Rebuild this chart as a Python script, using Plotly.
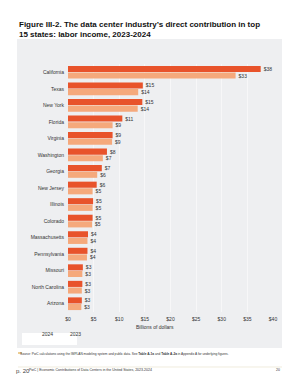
import plotly.graph_objects as go

W, H = 300, 388

states = ["California", "Texas", "New York", "Florida", "Virginia", "Washington",
          "Georgia", "New Jersey", "Illinois", "Colorado", "Massachusetts",
          "Pennsylvania", "Missouri", "North Carolina", "Arizona"]
income_2024 = [37.6, 14.6, 14.5, 10.6, 8.7, 7.6, 6.6, 5.6, 4.9, 4.8, 3.9, 3.8, 2.9, 2.8, 2.7]
income_2023 = [32.7, 13.7, 13.6, 8.7, 8.6, 6.8, 5.7, 4.8, 4.8, 4.7, 3.8, 3.7, 2.8, 2.7, 2.6]
labels_2024 = ["$38", "$15", "$15", "$11", "$9", "$8", "$7", "$6", "$5", "$5", "$4", "$4", "$3", "$3", "$3"]
labels_2023 = ["$33", "$14", "$14", "$9", "$9", "$7", "$6", "$5", "$5", "$5", "$4", "$4", "$3", "$3", "$3"]
tick_vals = [0, 5, 10, 15, 20, 25, 30, 35, 40]
tick_text = ["$0", "$5", "$10", "$15", "$20", "$25", "$30", "$35", "$40"]

DARK = "#E8532B"
LIGHT = "#F5A97C"
FONT = "Liberation Sans, Arial, sans-serif"

def px_x(x):
    return x / W

def px_y(y):
    return 1 - y / H

fig = go.Figure()
fig.add_trace(go.Bar(y=states, x=income_2024, orientation="h", name="2024",
                     marker=dict(color=DARK, line=dict(width=0)),
                     text=labels_2024, textposition="outside", cliponaxis=False,
                     textfont=dict(size=5, color="#333333", family=FONT)))
fig.add_trace(go.Bar(y=states, x=income_2023, orientation="h", name="2023",
                     marker=dict(color=LIGHT, line=dict(width=0)),
                     text=labels_2023, textposition="outside", cliponaxis=False,
                     textfont=dict(size=5, color="#333333", family=FONT)))

shapes = [
    dict(type="rect", xref="paper", yref="paper", x0=px_x(17), x1=px_x(282),
         y0=px_y(348), y1=px_y(39), fillcolor="#EEEFF1", line=dict(width=0), layer="below"),
    dict(type="rect", xref="paper", yref="paper", x0=px_x(22), x1=px_x(77),
         y0=px_y(345), y1=px_y(333), fillcolor="#FFFFFF", line=dict(width=0), layer="below"),
    dict(type="line", xref="paper", yref="paper", x0=px_x(18), x1=px_x(22),
         y0=px_y(353), y1=px_y(353), line=dict(color="#D99A2B", width=1)),
    dict(type="line", xref="paper", yref="paper", x0=px_x(18), x1=px_x(282),
         y0=px_y(367), y1=px_y(367), line=dict(color="#E6DFC8", width=0.6)),
]

annotations = [
    dict(text="<b>Figure III-2. The data center industry’s direct contribution in top<br>15 states: labor income, 2023-2024</b>",
         x=px_x(17), y=px_y(18), xref="paper", yref="paper", xanchor="left", yanchor="top",
         align="left", showarrow=False, font=dict(size=8, color="#111111", family=FONT)),
    dict(text="Billions of dollars", x=px_x(155), y=px_y(332), xref="paper", yref="paper",
         showarrow=False, font=dict(size=5, color="#333333", family=FONT)),
    dict(text="2024", x=px_x(40), y=px_y(339), xref="paper", yref="paper",
         showarrow=False, font=dict(size=5, color="#333333", family=FONT)),
    dict(text="2023", x=px_x(68), y=px_y(339), xref="paper", yref="paper",
         showarrow=False, font=dict(size=5, color="#333333", family=FONT)),
    dict(text="Source: PwC calculations using the IMPLAN modeling system and public data. See <b>Table A-1a</b> and <b>Table A-2a</b> in Appendix A for underlying figures.",
         x=px_x(18), y=px_y(358), xref="paper", yref="paper", xanchor="left",
         showarrow=False, font=dict(size=3.2, color="#333333", family=FONT)),
    dict(text="PwC | Economic Contributions of Data Centers in the United States, 2023-2024",
         x=px_x(27), y=px_y(374), xref="paper", yref="paper", xanchor="left",
         showarrow=False, font=dict(size=3.5, color="#333333", family=FONT)),
    dict(text="p. 20", x=px_x(14), y=px_y(376), xref="paper", yref="paper", xanchor="left",
         showarrow=False, font=dict(size=6, color="#444444", family=FONT)),
    dict(text="20", x=px_x(282), y=px_y(374), xref="paper", yref="paper", xanchor="right",
         showarrow=False, font=dict(size=3.5, color="#333333", family=FONT)),
]

fig.update_layout(
    width=W, height=H, margin=dict(l=0, r=0, t=0, b=0),
    paper_bgcolor="white", plot_bgcolor="rgba(0,0,0,0)",
    barmode="group", bargap=0.2, bargroupgap=0.08,
    showlegend=False, shapes=shapes, annotations=annotations,
    font=dict(family=FONT, color="#333333"),
    xaxis=dict(domain=[px_x(68), px_x(273)], range=[0, 40], tickvals=tick_vals,
               ticktext=tick_text, showgrid=True, gridcolor="#F7F7F8", gridwidth=1,
               zeroline=False, showline=False, ticks="", automargin=False,
               tickfont=dict(size=5, color="#333333", family=FONT), ticklabelstandoff=3),
    yaxis=dict(domain=[px_y(312), px_y(64)], autorange="reversed", showgrid=False,
               zeroline=False, showline=False, ticks="", automargin=False,
               tickfont=dict(size=5, color="#333333", family=FONT), ticklabelstandoff=3),
)

fig.write_html("out.html")
